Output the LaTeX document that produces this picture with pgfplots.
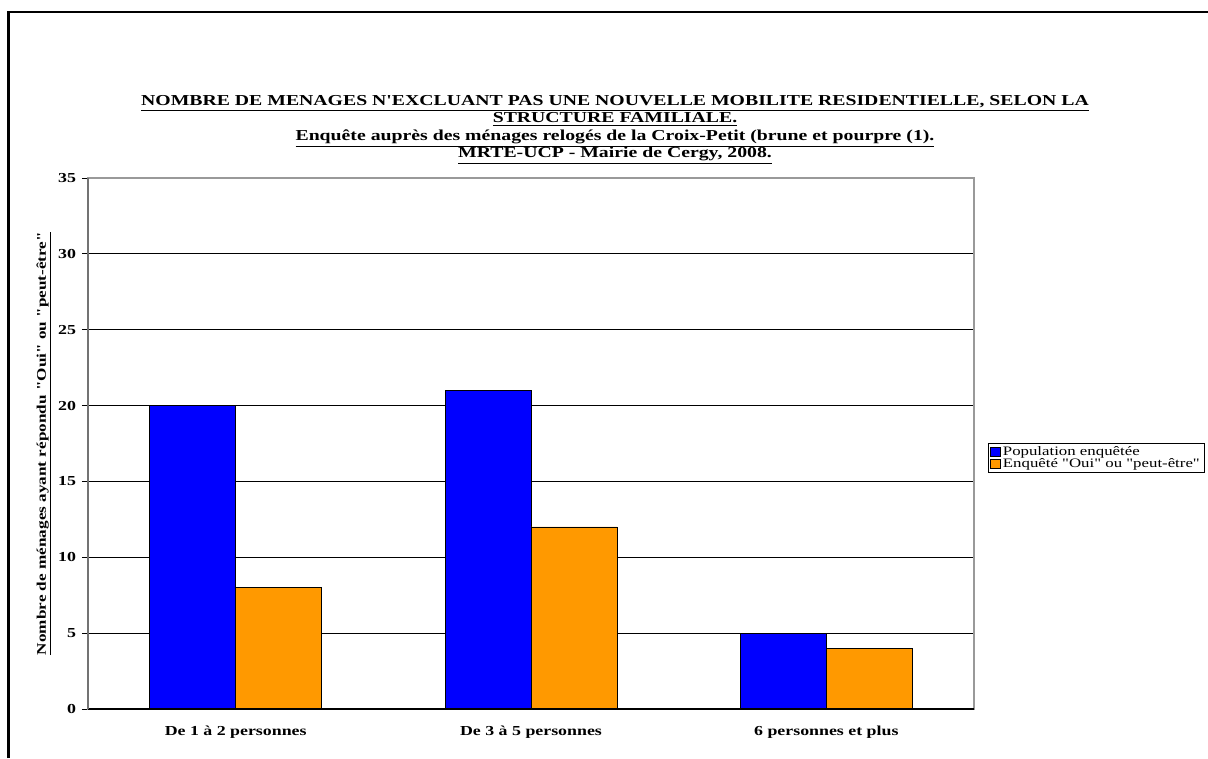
\documentclass[border=0pt]{standalone}
\usepackage{pgfplots}
\pgfplotsset{compat=1.18}
\usepackage{fontspec}
\setmainfont{Liberation Serif}
\newfontfamily\xl{Liberation Serif}[FakeStretch=1.3]
\definecolor{barblue}{HTML}{0000FF}
\definecolor{barorange}{HTML}{FF9900}
\begin{document}
\begin{tikzpicture}[x=0.75pt,y=0.75pt]
\useasboundingbox (0,0) rectangle (1208,758);
\draw[line width=1.9pt] (8.5,0) -- (8.5,746) -- (1208,746);
\coordinate (A) at (88,49);
% title
\begin{scope}[every node/.style={font=\xl\bfseries\fontsize{11.4}{13}\selectfont, inner sep=0pt, anchor=base}]
\node at (615,758-106) {\underline{NOMBRE DE MENAGES N'EXCLUANT PAS UNE NOUVELLE MOBILITE RESIDENTIELLE, SELON LA}};
\node at (615,758-123) {\underline{STRUCTURE FAMILIALE.}};
\node at (615,758-141) {\underline{Enquête auprès des ménages relogés de la Croix-Petit (brune et pourpre (1).}};
\node at (615,758-158) {\underline{MRTE-UCP - Mairie de Cergy, 2008.}};
\end{scope}
\begin{axis}[
  at={(A)}, anchor=south west,
  scale only axis, width=664.5pt, height=398.25pt,
  ybar=0pt, bar width=64.5pt,
  xmin=-0.5, xmax=2.5, ymin=0, ymax=35,
  ytick={0,5,...,35},
  xtick={0,1,2},
  xticklabels={De 1 à 2 personnes, De 3 à 5 personnes, 6 personnes et plus},
  x tick style={draw=none},
  extra x ticks={-0.5,0.5,1.5,2.5},
  extra x tick labels={},
  extra x tick style={tick align=outside, major tick length=7.5pt, tick style={draw=black, line width=0.6pt}, grid=none},
  ymajorgrids, grid style={black, line width=0.6pt},
  tick align=outside, major tick length=4.5pt,
  ytick pos=left, xtick pos=bottom,
  y tick style={black, line width=0.6pt},
  axis line style={draw=gray!80, line width=0.8pt},
  /pgf/number format/assume math mode=true,
  ticklabel style={font=\xl\bfseries\fontsize{10.3}{12}\selectfont},
  xticklabel style={yshift=-5pt},
  yticklabel style={xshift=-1pt},
  ylabel={\underline{Nombre de ménages ayant répondu "Oui" ou "peut-être"}},
  ylabel style={font=\xl\bfseries\fontsize{9.9}{11}\selectfont, at={(axis description cs:-0.0497,0.5)}, anchor=center},
  legend style={at={(rel axis cs:1.0158,0.501)}, anchor=north west, draw=black, line width=0.6pt,
    font=\xl\fontsize{9.7}{10}\selectfont, inner xsep=1.5pt, inner ysep=0.5pt, row sep=-3.5pt,
    /tikz/every even column/.append style={column sep=2pt}},
  legend cell align=left,
  legend image code/.code={\draw[#1, draw=black, line width=0.4pt] (0pt,-3.3pt) rectangle (7pt,3.7pt);},
  clip=false,
]
\addplot[fill=barblue, draw=black, line width=0.6pt] coordinates {(0,20) (1,21) (2,5)};
\addplot[fill=barorange, draw=black, line width=0.6pt] coordinates {(0,8) (1,12) (2,4)};
\legend{Population enquêtée, Enquêté "Oui" ou "peut-être"}
\draw[black, line width=0.8pt] (rel axis cs:0,0) -- (rel axis cs:1,0);
\draw[gray!90!black, line width=0.8pt] (rel axis cs:0,0) -- (rel axis cs:0,1);
\end{axis}
\end{tikzpicture}
\end{document}
